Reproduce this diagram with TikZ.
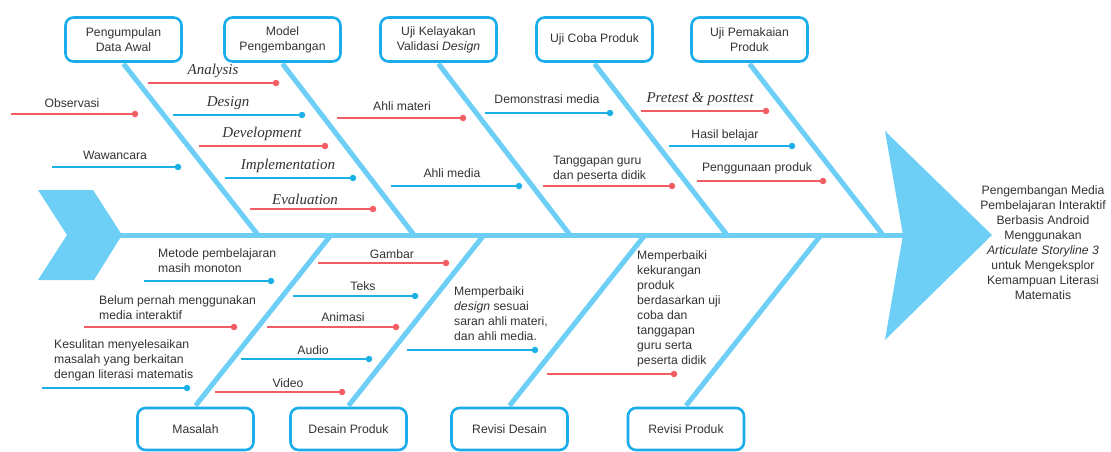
\documentclass[tikz,border=0pt]{standalone}
\usepackage{fontspec}
\setmainfont{Liberation Sans}
\newfontfamily\seriffont{Liberation Serif}
\definecolor{bonec}{HTML}{6ECFF6}
\definecolor{boxc}{HTML}{1AACEB}
\definecolor{ribred}{HTML}{F25C63}
\definecolor{ribblue}{HTML}{1BB1E7}
\definecolor{txt}{HTML}{333333}
\newcommand\myrib[5]{%
  \coordinate (#1a) at (#2,#4);
  \node[dotn,fill=#5] (#1b) at (#3,#4) {};
  \draw[draw=#5, line width=1.3pt] (#1a) -- (#1b.center);
}
\begin{document}
\begin{tikzpicture}[x=1pt,y=-1pt,
  bone/.style={draw=bonec, line width=5pt},
  fishbox/.style={draw=boxc, line width=2.6pt, rounded corners=8pt, fill=white,
    minimum width=116pt, align=center, text=txt, font=\fontsize{12.2}{15}\selectfont},
  topbox/.style={fishbox, minimum height=44pt},
  botbox/.style={fishbox, minimum height=42pt},
  dotn/.style={circle, inner sep=0pt, minimum size=6.5pt},
  lbl/.style={text=txt, inner sep=0pt, font=\fontsize{12.2}{15}\selectfont},
  lbll/.style={lbl, anchor=west, align=left},
  ital/.style={text=txt, inner sep=0pt, font=\seriffont\itshape\fontsize{15}{17}\selectfont}
]
\useasboundingbox (0,0) rectangle (1111,452);

% tail and head
\fill[bonec] (38,190) -- (93,190) -- (122,235) -- (94,280) -- (38,280) -- (67,235) -- cycle;
\fill[bonec] (885,131) -- (992,235) -- (885,340) -- (903,235) -- cycle;
\coordinate (tail) at (120,235);
\coordinate (head) at (905,235);
\draw[bone] (tail) -- (head);

% top boxes
\node[topbox] (t1) at (123.5,39.5) {Pengumpulan\\Data Awal};
\node[topbox] (t2) at (282.5,39.5) {Model\\Pengembangan};
\node[topbox] (t3) at (438.5,39.5) {Uji Kelayakan\\Validasi \textit{Design}};
\node[topbox] (t4) at (594.5,39.5) {Uji Coba Produk};
\node[topbox] (t5) at (749.5,39.5) {Uji Pemakaian\\Produk};

\coordinate (s1) at (258,235);
\coordinate (s2) at (414,235);
\coordinate (s3) at (570,235);
\coordinate (s4) at (727,235);
\coordinate (s5) at (883,235);
\foreach \i in {1,...,5} {\draw[bone] ([yshift=-1pt]t\i.south) -- (s\i);}

% bottom boxes
\node[botbox] (b1) at (195.5,429) {Masalah};
\node[botbox] (b2) at (348.5,429) {Desain Produk};
\node[botbox] (b3) at (509.5,429) {Revisi Desain};
\node[botbox] (b4) at (686,429) {Revisi Produk};

\coordinate (u1) at (331,235);
\coordinate (u2) at (484,235);
\coordinate (u3) at (645,235);
\coordinate (u4) at (821,235);
\foreach \i in {1,...,4} {\draw[bone] ([yshift=1pt]b\i.north) -- (u\i);}

% head text
\node[lbl, align=center] (headtxt) at (1043,242.5) {Pengembangan Media\\Pembelajaran Interaktif\\Berbasis Android\\Menggunakan\\\textit{Articulate Storyline 3}\\untuk Mengeksplor\\Kemampuan Literasi\\Matematis};

% top ribs
\myrib{ra}{11}{135}{114}{ribred}
\node[lbl] (la) at (72,103) {Observasi};
\myrib{rb}{52}{178}{167}{ribblue}
\node[lbl] (lb) at (115,155) {Wawancara};
\myrib{rc}{148}{276}{83}{ribred}
\node[ital] (lc) at (213,71) {Analysis};
\myrib{rd}{173}{302}{115}{ribblue}
\node[ital] (ld) at (228,103) {Design};
\myrib{re}{199}{325}{146}{ribred}
\node[ital] (le) at (262,134) {Development};
\myrib{rf}{225}{353}{178}{ribblue}
\node[ital] (lf) at (288,166) {Implementation};
\myrib{rg}{250}{373}{209}{ribred}
\node[ital] (lg) at (305,199) {Evaluation};
\myrib{rh}{337}{463}{118}{ribred}
\node[lbl] (lh) at (402,106) {Ahli materi};
\myrib{ri}{391}{519}{186}{ribblue}
\node[lbl] (li) at (452,173) {Ahli media};
\myrib{rj}{485}{610}{113}{ribblue}
\node[lbl] (lj) at (547,99) {Demonstrasi media};
\myrib{rk}{543}{672}{186}{ribred}
\node[lbll] (lk) at (553,169) {Tanggapan guru\\dan peserta didik};
\myrib{rl}{641}{766}{111}{ribred}
\node[ital] (ll) at (700,99) {Pretest \& posttest};
\myrib{rm}{669}{792}{146}{ribblue}
\node[lbl] (lm) at (725,135) {Hasil belajar};
\myrib{rn}{697}{823}{181}{ribred}
\node[lbl] (ln) at (757,168) {Penggunaan produk};

% bottom ribs
\myrib{ro}{144}{271}{281}{ribblue}
\node[lbll] (lo) at (158,260.5) {Metode pembelajaran\\masih monoton};
\myrib{rp}{84}{234}{327}{ribred}
\node[lbll] (lp) at (99,307.5) {Belum pernah menggunakan\\media interaktif};
\myrib{rq}{42}{187}{388}{ribblue}
\node[lbll] (lq) at (54,360) {Kesulitan menyelesaikan\\masalah yang berkaitan\\dengan literasi matematis};
\myrib{rr}{318}{446}{263}{ribred}
\node[lbl] (lr) at (392,254) {Gambar};
\myrib{rs}{293}{415}{296}{ribblue}
\node[lbl] (ls) at (363,286) {Teks};
\myrib{rt}{267}{396}{327}{ribred}
\node[lbl] (lt) at (343,317) {Animasi};
\myrib{ru}{241}{369}{359}{ribblue}
\node[lbl] (lu) at (313,350) {Audio};
\myrib{rv}{215}{342}{392}{ribred}
\node[lbl] (lv) at (288,383) {Video};
\myrib{rw}{407}{535}{350}{ribblue}
\node[lbll] (lw) at (454,314) {Memperbaiki\\\textit{design} sesuai\\saran ahli materi,\\dan ahli media.};
\myrib{rx}{547}{674}{374}{ribred}
\node[lbll] (lx) at (637,308.5) {Memperbaiki\\kekurangan\\produk\\berdasarkan uji\\coba dan\\tanggapan\\guru serta\\peserta didik};
\end{tikzpicture}
\end{document}
